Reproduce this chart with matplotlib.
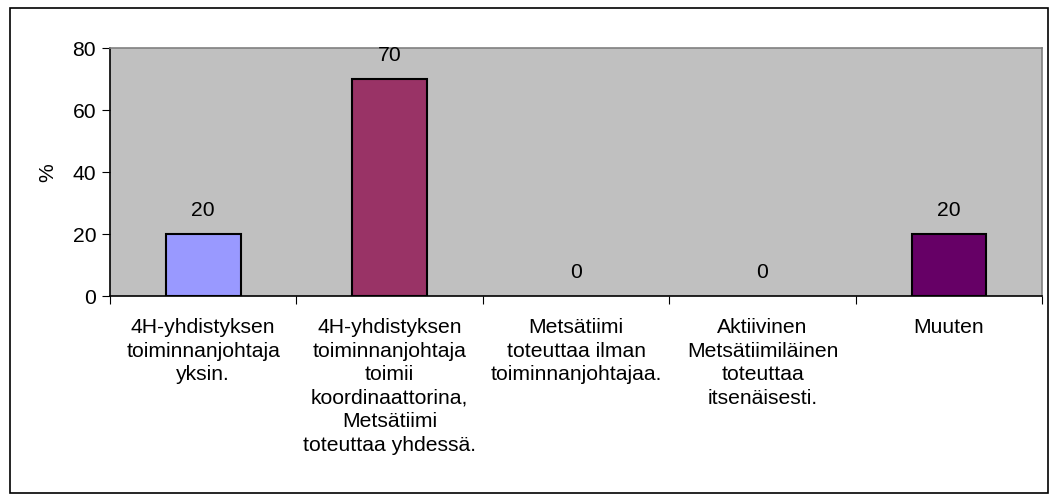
import matplotlib
matplotlib.use("Agg")
import matplotlib.pyplot as plt
from matplotlib.patches import Rectangle

categories = [
    "4H-yhdistyksen\ntoiminnanjohtaja\nyksin.",
    "4H-yhdistyksen\ntoiminnanjohtaja\ntoimii\nkoordinaattorina,\nMetsätiimi\ntoteuttaa yhdessä.",
    "Metsätiimi\ntoteuttaa ilman\ntoiminnanjohtajaa.",
    "Aktiivinen\nMetsätiimiläinen\ntoteuttaa\nitsenäisesti.",
    "Muuten",
]
values = [20, 70, 0, 0, 20]
colors = ["#9999FF", "#993366", "#9999FF", "#9999FF", "#660066"]

plt.rcParams["font.family"] = ["Liberation Sans", "DejaVu Sans"]
FS = 15.2

fig = plt.figure(figsize=(10.58, 4.97), dpi=100)
fig.patches.append(Rectangle((10 / 1058, 1 - 493 / 497), 1038 / 1058, 485 / 497,
                             transform=fig.transFigure, fill=False,
                             edgecolor="black", linewidth=1.2))
ax = fig.add_axes([0.104, 0.404, 0.881, 0.499])
ax.set_facecolor("#C0C0C0")

x = list(range(len(values)))
for xi, v, c in zip(x, values, colors):
    if v > 0:
        ax.bar(xi, v, width=0.4, color=c, edgecolor="black", linewidth=1.5, zorder=3)
    ax.text(xi, v + 4.6, str(v), ha="center", va="bottom", fontsize=FS, clip_on=False, zorder=4)

ax.set_xlim(-0.5, len(values) - 0.5)
ax.set_ylim(0, 80)
ax.set_yticks([0, 20, 40, 60, 80])
ax.set_ylabel("%", fontsize=FS, labelpad=11)
ax.tick_params(axis="y", labelsize=FS, length=6, direction="out", pad=4)

ax.set_xticks([i - 0.5 for i in range(len(values) + 1)], minor=False)
ax.set_xticklabels([])
ax.tick_params(axis="x", length=6, direction="out")
ax.set_xticks(x, minor=True)
ax.set_xticklabels(categories, minor=True, fontsize=FS, linespacing=1.3)
ax.tick_params(axis="x", which="minor", length=0, pad=16)

for s in ["left", "bottom"]:
    ax.spines[s].set_color("black")
    ax.spines[s].set_linewidth(1.2)
for s in ["top", "right"]:
    ax.spines[s].set_color("#808080")
    ax.spines[s].set_linewidth(1.2)

fig.savefig("out.png", dpi=100)
